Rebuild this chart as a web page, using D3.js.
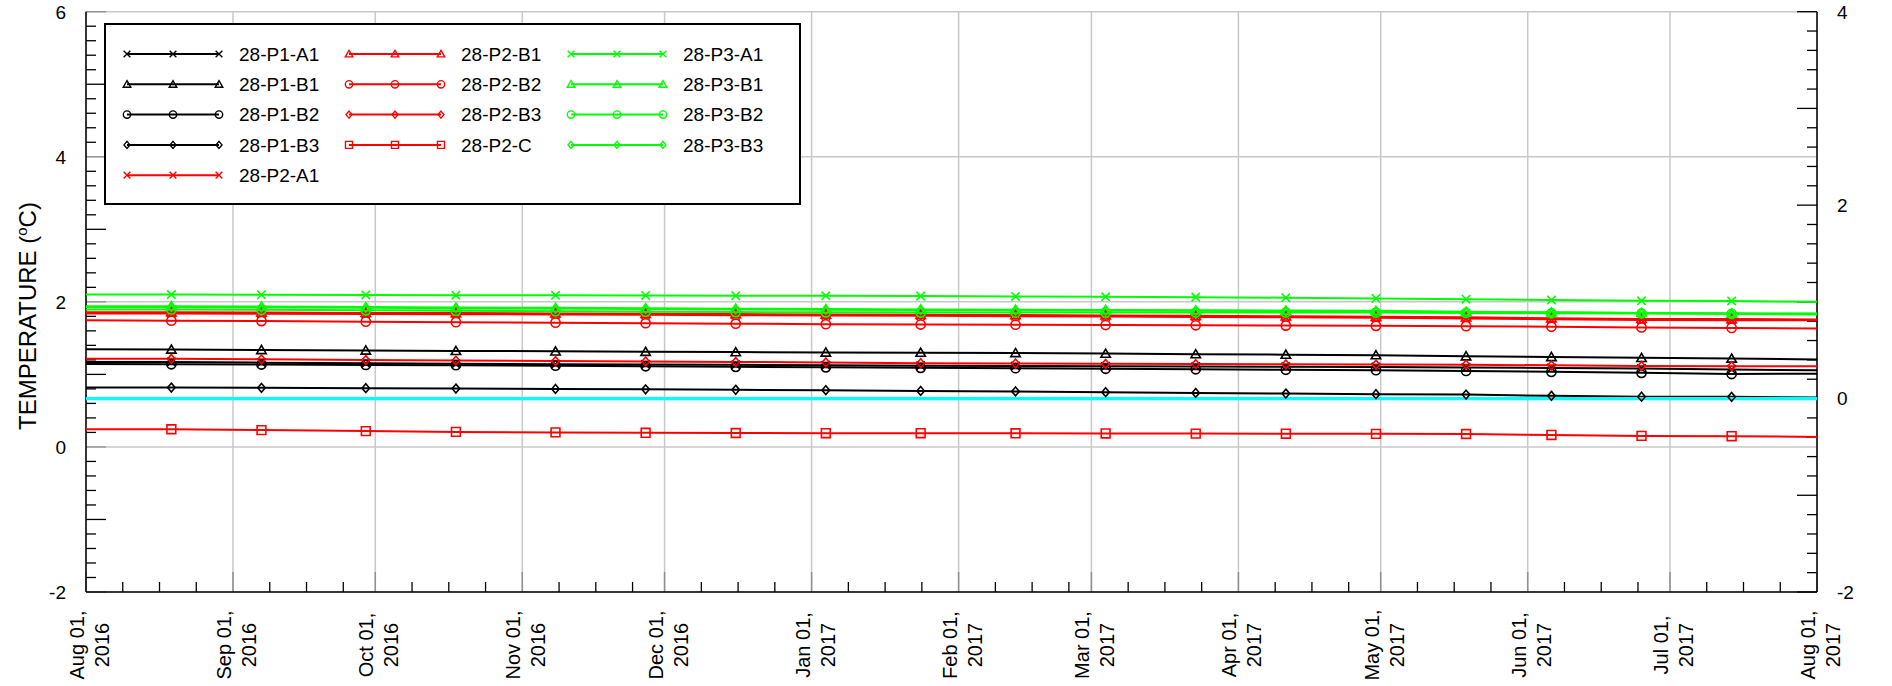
<!DOCTYPE html>
<html>
<head>
<meta charset="utf-8">
<script src="https://cdn.jsdelivr.net/npm/d3@7"></script>
<style>
  html, body { margin: 0; padding: 0; background: #fff; }
  svg { display: block; font-family: "Liberation Sans", Arial, sans-serif; }
</style>
</head>
<body>
<svg id="chart" width="1892" height="686"></svg>
<script>
// ---------------- DATA ----------------
const startDate = "2016-08-01";
const endDate = "2017-08-01";
const markerDates = ["2016-08-19","2016-09-07","2016-09-29","2016-10-18","2016-11-08","2016-11-27",
  "2016-12-16","2017-01-04","2017-01-24","2017-02-13","2017-03-04","2017-03-23","2017-04-11",
  "2017-04-30","2017-05-19","2017-06-06","2017-06-25","2017-07-14"];
const seriesDates = [startDate, ...markerDates, endDate];

const seriesNames = ["28-P1-A1","28-P1-B1","28-P1-B2","28-P1-B3","28-P2-A1",
  "28-P2-B1","28-P2-B2","28-P2-B3","28-P2-C",
  "28-P3-A1","28-P3-B1","28-P3-B2","28-P3-B3"];
const seriesColors = ["#000000","#000000","#000000","#000000","#ff0000",
  "#ff0000","#ff0000","#ff0000","#ff0000",
  "#00ff00","#00ff00","#00ff00","#00ff00"];
const seriesMarkers = ["x","triangle","circle","diamond","x",
  "triangle","circle","diamond","square",
  "x","triangle","circle","diamond"];

const p1A1 = [1.172,1.170,1.162,1.152,1.145,1.141,1.137,1.132,1.126,1.119,1.115,1.111,1.108,1.106,1.103,1.095,1.088,1.081,1.067,1.058];
const p1B1 = [1.345,1.343,1.337,1.330,1.324,1.318,1.312,1.307,1.302,1.300,1.295,1.287,1.279,1.272,1.265,1.251,1.240,1.228,1.219,1.205];
const p1B2 = [1.142,1.140,1.136,1.131,1.127,1.120,1.112,1.104,1.097,1.090,1.085,1.078,1.071,1.064,1.058,1.048,1.035,1.021,1.005,1.010];
const p1B3 = [0.820,0.819,0.815,0.810,0.805,0.800,0.794,0.788,0.782,0.772,0.765,0.755,0.745,0.736,0.727,0.722,0.705,0.692,0.690,0.681];
const p2A1 = [1.840,1.840,1.837,1.833,1.830,1.826,1.821,1.816,1.811,1.807,1.803,1.798,1.792,1.786,1.780,1.771,1.760,1.750,1.748,1.745];
const p2B1 = [1.855,1.855,1.852,1.848,1.845,1.841,1.836,1.831,1.826,1.822,1.818,1.813,1.807,1.801,1.795,1.786,1.775,1.765,1.762,1.758];
const p2B2 = [1.745,1.740,1.735,1.727,1.720,1.713,1.706,1.699,1.692,1.688,1.685,1.681,1.677,1.673,1.669,1.665,1.656,1.647,1.641,1.633];
const p2B3 = [1.215,1.214,1.208,1.198,1.190,1.184,1.178,1.172,1.165,1.155,1.150,1.146,1.142,1.139,1.136,1.134,1.125,1.117,1.113,1.113];
const p2C  = [0.245,0.244,0.232,0.218,0.207,0.200,0.195,0.192,0.189,0.189,0.188,0.186,0.184,0.182,0.180,0.178,0.165,0.152,0.148,0.138];
const p3A1 = [2.100,2.100,2.098,2.095,2.092,2.090,2.088,2.085,2.083,2.079,2.075,2.070,2.065,2.057,2.047,2.037,2.025,2.014,2.012,2.000];
const p3B1 = [1.940,1.940,1.935,1.928,1.922,1.917,1.912,1.906,1.900,1.895,1.892,1.888,1.884,1.880,1.876,1.862,1.855,1.848,1.840,1.840];
const p3B2 = [1.895,1.895,1.890,1.883,1.876,1.871,1.865,1.859,1.855,1.853,1.853,1.853,1.853,1.853,1.852,1.848,1.843,1.840,1.835,1.825];
const p3B3 = [1.930,1.930,1.925,1.918,1.912,1.907,1.902,1.897,1.892,1.888,1.884,1.880,1.876,1.872,1.868,1.858,1.852,1.846,1.838,1.836];
const seriesValues = [p1A1,p1B1,p1B2,p1B3,p2A1,p2B1,p2B2,p2B3,p2C,p3A1,p3B1,p3B2,p3B3];

// reference line on the right axis
const refDates = [startDate, endDate];
const refValues = [0, 0];

const leftTicks = [6, 4, 2, 0, -2];
const rightTicks = [4, 2, 0, -2];
const xTickLabels = ["Aug 01,|2016","Sep 01,|2016","Oct 01,|2016","Nov 01,|2016","Dec 01,|2016",
  "Jan 01,|2017","Feb 01,|2017","Mar 01,|2017","Apr 01,|2017","May 01,|2017","Jun 01,|2017",
  "Jul 01,|2017","Aug 01,|2017"];
const yTitle = "TEMPERATURE";

// ---------------- LAYOUT ----------------
const parse = d3.utcParse("%Y-%m-%d");
const L = 86, R = 1817, T = 11.7, B = 592;
const svg = d3.select("#chart");

const x = d3.scaleUtc().domain([parse(startDate), parse(endDate)]).range([L, R]);
const yL = d3.scaleLinear().domain([-2, 6]).range([B, T]);
const yR = d3.scaleLinear().domain([-2, 4]).range([B, T]);

const months = d3.utcMonth.range(parse(startDate), d3.utcDay.offset(parse(endDate), 1));
const minorX = [];
months.slice(0, -1).forEach(m => { for (let k = 1; k <= 3; k++) minorX.push(new Date(+m + k * 7.75 * 864e5)); });

// Gridlines
const grid = svg.append("g");
grid.selectAll("line.v").data(months).join("line")
  .attr("x1", d => x(d)).attr("x2", d => x(d)).attr("y1", T).attr("y2", B)
  .attr("stroke", "#c8c8c8").attr("stroke-width", 1.5);
grid.selectAll("line.h").data(leftTicks).join("line")
  .attr("x1", L).attr("x2", R).attr("y1", d => yL(d)).attr("y2", d => yL(d))
  .attr("stroke", "#c8c8c8").attr("stroke-width", 1.5);

// Axis ticks
const axG = svg.append("g");
const leftMinor = d3.range(-2, 6.001, 0.2).map(v => +v.toFixed(1));
axG.selectAll("line.lt").data(leftMinor).join("line")
  .attr("x1", L).attr("x2", d => L + (Math.abs(d - Math.round(d)) < 1e-6 ? 20 : 10))
  .attr("y1", d => yL(d)).attr("y2", d => yL(d))
  .attr("stroke", d => (Math.abs(d - Math.round(d)) < 1e-6 && Math.round(d) % 2 === 0) ? "#909090" : "#000")
  .attr("stroke-width", 1.3);
const rightMinor = d3.range(-2, 4.001, 0.2).map(v => +v.toFixed(1));
axG.selectAll("line.rt").data(rightMinor).join("line")
  .attr("x1", R).attr("x2", d => R - (Math.abs(d - Math.round(d)) < 1e-6 ? 20 : 10))
  .attr("y1", d => yR(d)).attr("y2", d => yR(d))
  .attr("stroke", "#000").attr("stroke-width", 1.3);
axG.selectAll("line.bt").data(minorX).join("line")
  .attr("x1", d => x(d)).attr("x2", d => x(d)).attr("y1", B).attr("y2", B - 10)
  .attr("stroke", "#000").attr("stroke-width", 1.3);
axG.selectAll("line.bM").data(months).join("line")
  .attr("x1", d => x(d)).attr("x2", d => x(d)).attr("y1", B).attr("y2", B - 20)
  .attr("stroke", "#909090").attr("stroke-width", 1.5);

// Axis lines
axG.append("line").attr("x1", L).attr("x2", L).attr("y1", T).attr("y2", B).attr("stroke", "#000").attr("stroke-width", 1.5);
axG.append("line").attr("x1", R).attr("x2", R).attr("y1", T).attr("y2", B).attr("stroke", "#000").attr("stroke-width", 1.5);
axG.append("line").attr("x1", L).attr("x2", R).attr("y1", B).attr("y2", B).attr("stroke", "#000").attr("stroke-width", 1.5);

// Tick labels
axG.selectAll("text.yl").data(leftTicks).join("text")
  .attr("x", 66).attr("y", d => yL(d)).attr("dy", "0.36em")
  .attr("text-anchor", "end").attr("font-size", 19).text(d => d);
axG.selectAll("text.yr").data(rightTicks).join("text")
  .attr("x", 1837).attr("y", d => yR(d)).attr("dy", "0.36em")
  .attr("text-anchor", "start").attr("font-size", 19).text(d => d);
const xl = axG.selectAll("g.xl").data(months).join("g")
  .attr("transform", d => `translate(${x(d)},645) rotate(-90)`);
xl.append("text").attr("text-anchor", "middle").attr("font-size", 20)
  .each(function(d, i) {
    const parts = xTickLabels[i].split("|");
    const t = d3.select(this);
    t.append("tspan").attr("x", 0).attr("y", -2).text(parts[0]);
    t.append("tspan").attr("x", 0).attr("y", 23).text(parts[1]);
  });

// Y title
const yt = svg.append("text").attr("transform", "translate(36,316) rotate(-90)")
  .attr("text-anchor", "middle").attr("font-size", 24);
yt.append("tspan").text(yTitle + " (");
yt.append("tspan").attr("font-size", 15).attr("dy", -9).text("o");
yt.append("tspan").attr("dy", 9).text("C)");

// ---------------- SERIES ----------------
function markerPath(type, s) {
  switch (type) {
    case "x": return `M${-s},${-s}L${s},${s}M${-s},${s}L${s},${-s}`;
    case "triangle": return `M0,${-s*1.05}L${s*1.1},${s*0.85}L${-s*1.1},${s*0.85}Z`;
    case "circle": return `M${s},0A${s},${s} 0 1,1 ${-s},0A${s},${s} 0 1,1 ${s},0Z`;
    case "diamond": return `M0,${-s}L${s*0.85},0L0,${s}L${-s*0.85},0Z`;
    case "square": return `M${-s},${-s}H${s}V${s}H${-s}Z`;
  }
}
const markerSize = {x: 4.2, triangle: 4.3, circle: 4.6, diamond: 4.4, square: 4.4};

const line = d3.line().x(d => x(d.date)).y(d => d.scale(d.value));
const plot = svg.append("g");

seriesValues.forEach((vals, i) => {
  const pts = vals.map((v, j) => ({date: parse(seriesDates[j]), value: v, scale: yL}));
  plot.append("path").datum(pts).attr("d", line)
    .attr("fill", "none").attr("stroke", seriesColors[i]).attr("stroke-width", 2);
});
// reference cyan line
plot.append("path").datum(refValues.map((v, j) => ({date: parse(refDates[j]), value: v, scale: yR})))
  .attr("d", line).attr("fill", "none").attr("stroke", "#00ffff").attr("stroke-width", 3.2);

seriesValues.forEach((vals, i) => {
  const pts = vals.slice(1, -1).map((v, j) => ({date: parse(markerDates[j]), value: v}));
  const type = seriesMarkers[i];
  plot.append("g").selectAll("path").data(pts).join("path")
    .attr("transform", d => `translate(${x(d.date)},${yL(d.value)})`)
    .attr("d", markerPath(type, markerSize[type]))
    .attr("fill", "none").attr("stroke", seriesColors[i]).attr("stroke-width", 1.6);
});

// ---------------- LEGEND ----------------
const lg = svg.append("g");
lg.append("rect").attr("x", 105).attr("y", 24).attr("width", 695).attr("height", 180)
  .attr("fill", "#fff").attr("stroke", "#000").attr("stroke-width", 2);
const colX = [127, 349, 571];
const rowY0 = 54, rowDY = 30.3;
const colStarts = [0, 5, 9];
seriesNames.forEach((name, i) => {
  const c = i < 5 ? 0 : (i < 9 ? 1 : 2);
  const r = i - colStarts[c];
  const cx = colX[c], cy = rowY0 + r * rowDY;
  const g = lg.append("g");
  g.append("line").attr("x1", cx).attr("x2", cx + 92).attr("y1", cy).attr("y2", cy)
    .attr("stroke", seriesColors[i]).attr("stroke-width", 2);
  [0, 46, 92].forEach(dx => {
    g.append("path").attr("transform", `translate(${cx + dx},${cy})`)
      .attr("d", markerPath(seriesMarkers[i], markerSize[seriesMarkers[i]] * 0.8))
      .attr("fill", "none").attr("stroke", seriesColors[i]).attr("stroke-width", 1.4);
  });
  g.append("text").attr("x", cx + 112).attr("y", cy).attr("dy", "0.36em")
    .attr("font-size", 19).text(name);
});
</script>
</body>
</html>
